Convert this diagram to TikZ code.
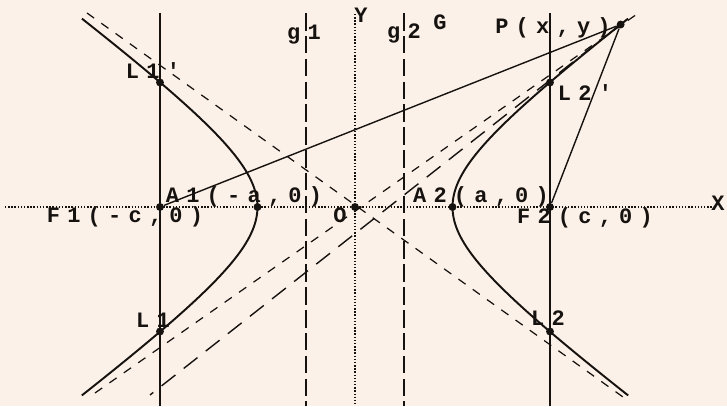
\documentclass[tikz,border=0pt]{standalone}
\usepackage{fontspec}
\newfontfamily\lblfont{Liberation Mono}[LetterSpace=33]
\usetikzlibrary{calc}
\definecolor{paper}{RGB}{252,241,232}
\definecolor{ink}{RGB}{22,18,15}
\tikzset{
 curve/.style={ink,line width=1.1pt},
 focline/.style={ink,line width=0.8pt},
 asym/.style={ink,line width=0.7pt,dash pattern=on 5pt off 5pt},
 tang/.style={ink,line width=0.8pt,dash pattern=on 10pt off 6pt},
 dirline/.style={ink,line width=1.1pt,dash pattern=on 10pt off 3pt},
 axisline/.style={ink,line width=0.8pt,densely dotted},
 dot/.style={circle,fill=ink,inner sep=0pt,minimum size=4.5pt},
 lbl/.style={font=\lblfont\bfseries\fontsize{12.5}{14}\selectfont,text=ink,inner sep=0pt}
}
\def\ha{1.95}
\def\hb{1.44}
\def\hc{3.9}

\begin{document}
\begin{tikzpicture}
\fill[paper] (-7.1,-3.98) rectangle (7.44,4.14);
% frame points
\coordinate (top) at (0,3.88);
\coordinate (bot) at (0,-3.98);
\coordinate (xl) at (-7.0,0);
\coordinate (xr) at (7.14,0);
\coordinate (ytop) at (0,3.86);
\coordinate (G1) at (-0.98,0);
\coordinate (G2) at (0.98,0);
% points of the hyperbola
\node[dot] (O) at (0,0) {};
\node[dot] (F1) at (-\hc,0) {};
\node[dot] (F2) at (\hc,0) {};
\node[dot] (A1) at (-\ha,0) {};
\node[dot] (A2) at (\ha,0) {};
\node[dot] (L1p) at (-\hc,2.49) {};
\node[dot] (L1) at (-\hc,-2.49) {};
\node[dot] (L2p) at (\hc,2.49) {};
\node[dot] (L2) at (\hc,-2.49) {};
\node[dot] (P) at ({\ha*cosh(1.66)},{\hb*sinh(1.66)}) {};
% axes and directrices
\draw[axisline] (xl) -- (xr);
\draw[axisline] (ytop) -- (bot);
\draw[dirline] (G1 |- top) -- (G1 |- bot);
\draw[dirline] (G2 |- top) -- (G2 |- bot);
\draw[focline] (F1 |- top) -- (F1 |- bot);
\draw[focline] (F2 |- top) -- (F2 |- bot);
% asymptotes
\coordinate (as1a) at (-5.2,-3.72);
\coordinate (as1b) at (5.7,3.9);
\coordinate (as2a) at (-5.36,3.88);
\coordinate (as2b) at (5.36,-3.8);
\draw[asym] (as1a) -- (as1b);
\draw[asym] (as2a) -- (as2b);
% branches
\draw[curve,domain=-1.69:1.69,smooth,samples=60] plot ({-\ha*cosh(\x)},{\hb*sinh(\x)});
\draw[curve,domain=-1.69:1.69,smooth,samples=60] plot ({\ha*cosh(\x)},{\hb*sinh(\x)});
% tangent and focal radii
\coordinate (tg) at (-4.1,-3.76);
\draw[tang] (P) -- (tg);
\draw[focline] (P) -- (F1);
\draw[focline] (P) -- (F2);
% labels
\node[lbl] (tL1p) at (-4.04,2.72) {L1'};
\node[lbl] (tA1) at (-2.22,0.2) {A1(-a,0)};
\node[lbl] (tF1) at (-4.6,-0.2) {F1(-c,0)};
\node[lbl] (tO) at (-0.3,-0.16) {O};
\node[lbl] (tL1) at (-4.04,-2.26) {L1};
\node[lbl] (tg1) at (-1.02,3.44) {g1};
\node[lbl] (tY) at (0.12,3.84) {Y};
\node[lbl] (tg2) at (0.98,3.48) {g2};
\node[lbl] (tG) at (1.7,3.7) {G};
\node[lbl] (tP) at (3.96,3.58) {P(x,y)};
\node[lbl] (tL2p) at (4.6,2.28) {L2'};
\node[lbl] (tA2) at (2.52,0.2) {A2(a,0)};
\node[lbl] (tF2) at (4.6,-0.22) {F2(c,0)};
\node[lbl] (tL2) at (3.86,-2.22) {L2};
\node[lbl] (tX) at (7.26,0.08) {X};
\end{tikzpicture}
\end{document}
